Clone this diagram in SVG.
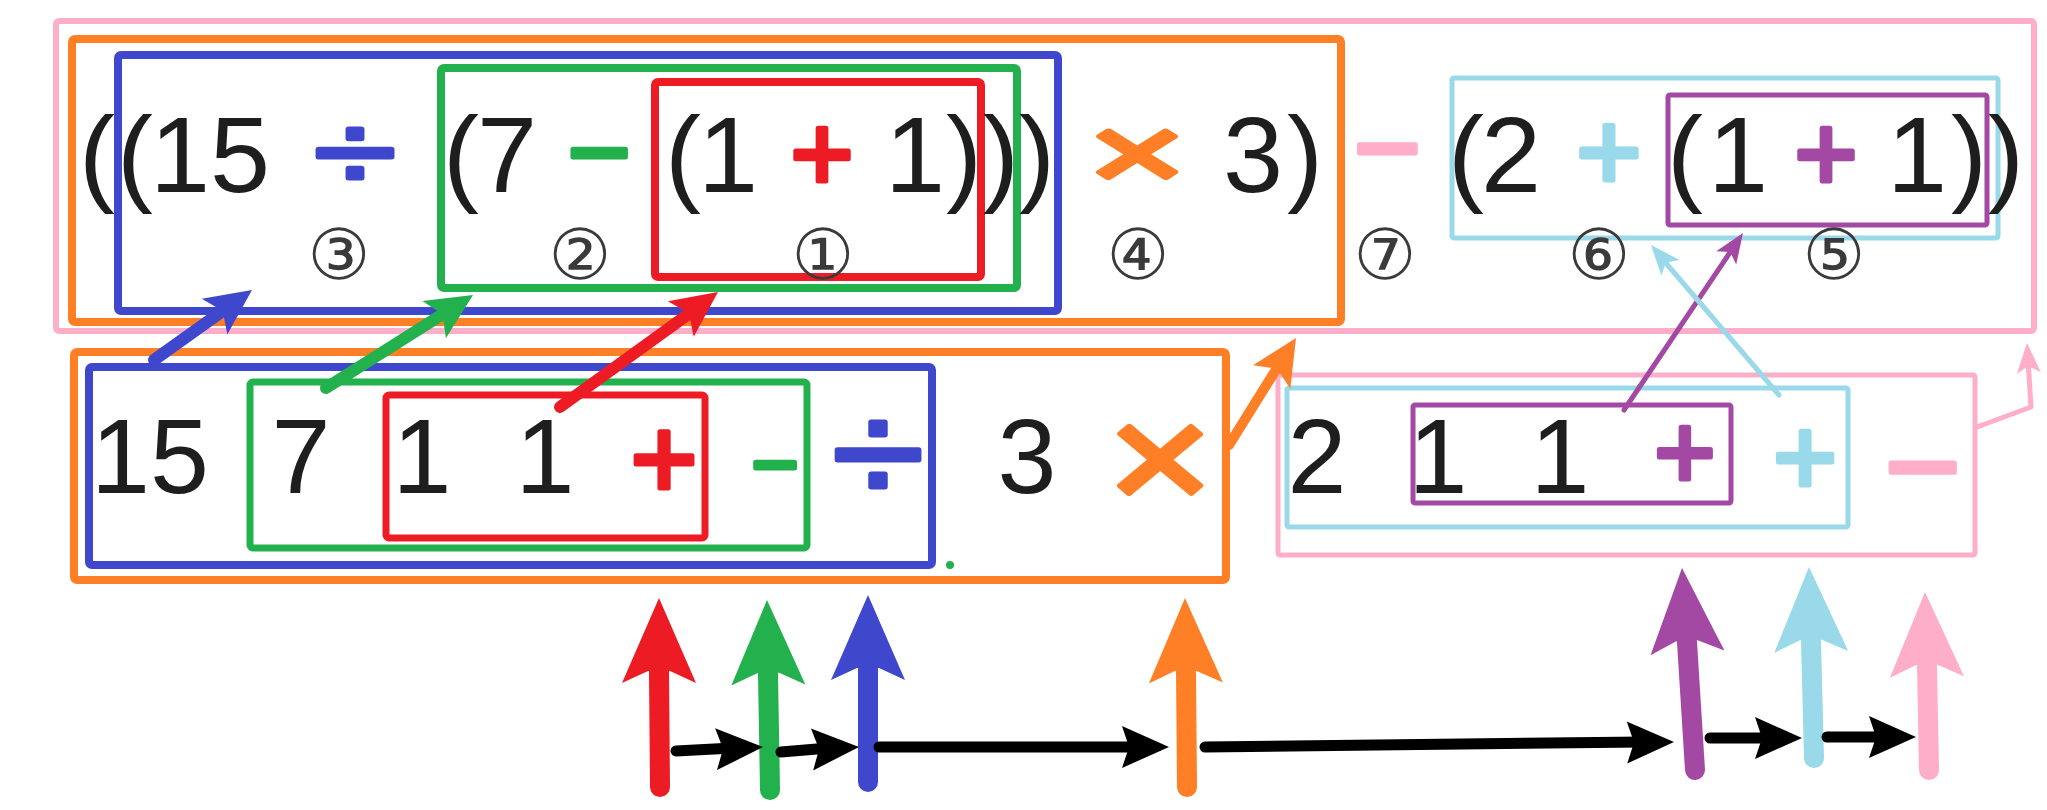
<svg xmlns="http://www.w3.org/2000/svg" xmlns:xlink="http://www.w3.org/1999/xlink" width="2047" height="810" viewBox="0 0 2047 810">
<style>
.bx{fill:none;stroke-linejoin:round}
.t{font-family:"Liberation Sans",Arial,sans-serif;fill:#1e1e1e;text-anchor:middle}
.tt{font-size:108px}
.tb{font-size:106px}
.op{font-family:"Liberation Sans",Arial,sans-serif;text-anchor:middle;stroke-linejoin:round;stroke-width:5}
.num{font-family:"DejaVu Sans","Noto Sans CJK JP",sans-serif;font-size:70px;fill:#3a3a3a;text-anchor:middle}
.ln{stroke-linecap:round;stroke-linejoin:round}
.k{stroke:#000;stroke-width:11}
.v{stroke-width:20}
.pink{stroke:#FFAEC9;fill:#FFAEC9}
.orange{stroke:#FF7F27;fill:#FF7F27}
.blue{stroke:#3F48CC;fill:#3F48CC}
.green{stroke:#22B14C;fill:#22B14C}
.red{stroke:#ED1C24;fill:#ED1C24}
.lblue{stroke:#99D9EA;fill:#99D9EA}
.purple{stroke:#A349A4;fill:#A349A4}
.hd{stroke:none}
</style>
<defs>
<path id="hd-l" d="M0,0 L22,46 L0,36 L-22,46 Z"/>
<path id="hd-s" d="M0,0 L12,30 L0,23 L-12,30 Z"/>
<path id="hd-v" d="M0,0 L37,85 L11,73 L-11,73 L-37,85 Z"/>
<path id="hd-k" d="M0,0 L21,47 L0,40 L-21,47 Z"/>
</defs>
<rect width="2047" height="810" fill="#fff"/>

<!-- infix expression boxes -->
<g id="infix-all"><rect class="bx" x="56" y="21" width="1978" height="310" rx="3" stroke="#FFAEC9" stroke-width="6"/></g>
<g id="infix-mul"><rect class="bx" x="72" y="39" width="1269" height="283" rx="3" stroke="#FF7F27" stroke-width="8"/></g>
<g id="infix-div"><rect class="bx" x="118" y="55" width="940" height="256" rx="3" stroke="#3F48CC" stroke-width="8"/></g>
<g id="infix-sub"><rect class="bx" x="441" y="68" width="576" height="220" rx="3" stroke="#22B14C" stroke-width="8"/></g>
<g id="infix-add1"><rect class="bx" x="655" y="82" width="326" height="195" rx="3" stroke="#ED1C24" stroke-width="8"/></g>
<g id="infix-add2"><rect class="bx" x="1452" y="78" width="546" height="160" rx="2" stroke="#99D9EA" stroke-width="5"/></g>
<g id="infix-add3"><rect class="bx" x="1668" y="95" width="319" height="130" rx="2" stroke="#A349A4" stroke-width="5"/></g>

<g id="infix-text">
<text class="t tt" x="97" y="192">(</text>
<text class="t tt" x="135" y="192">(</text>
<text class="t tt" x="210" y="192">15</text>
<text class="t tt" x="461" y="192">(</text>
<text class="t tt" x="507" y="192">7</text>
<text class="t tt" x="683" y="192">(</text>
<text class="t tt" x="728" y="192">1</text>
<text class="t tt" x="915" y="192">1</text>
<text class="t tt" x="964" y="192">)</text>
<text class="t tt" x="1001" y="192">)</text>
<text class="t tt" x="1037" y="192">)</text>
<text class="t tt" x="1253" y="192">3</text>
<text class="t tt" x="1305" y="192">)</text>
<text class="t tt" x="1466" y="192">(</text>
<text class="t tt" x="1511" y="192">2</text>
<text class="t tt" x="1685" y="192">(</text>
<text class="t tt" x="1738" y="192">1</text>
<text class="t tt" x="1917" y="192">1</text>
<text class="t tt" x="1969" y="192">)</text>
<text class="t tt" x="2006" y="192">)</text>
<text class="op blue" x="0" y="190" font-size="110" stroke-width="6" transform="translate(355,0) scale(1.35,1)">÷</text>
<text class="op green" x="599" y="189" font-size="108">−</text>
<text class="op red" x="822" y="190" font-size="108">+</text>
<text class="op orange" x="0" y="189" font-size="104" stroke-width="8" transform="translate(1137,0) scale(1.6,1)">×</text>
<text class="op pink" x="1387" y="187" font-size="115">−</text>
<text class="op lblue" x="1609" y="190" font-size="112" stroke-width="6">+</text>
<text class="op purple" x="1826" y="190" font-size="108">+</text>
</g>

<g id="order-labels">
<text class="num" x="339" y="279">③</text>
<text class="num" x="580" y="279">②</text>
<text class="num" x="823" y="279">①</text>
<text class="num" x="1138" y="279">④</text>
<text class="num" x="1385" y="279">⑦</text>
<text class="num" x="1599" y="279">⑥</text>
<text class="num" x="1834" y="279">⑤</text>
</g>

<!-- postfix expression boxes -->
<g id="postfix-mul"><rect class="bx" x="74" y="352" width="1152" height="228" rx="3" stroke="#FF7F27" stroke-width="8"/></g>
<g id="postfix-div"><rect class="bx" x="89" y="367" width="843" height="198" rx="3" stroke="#3F48CC" stroke-width="8"/></g>
<g id="postfix-sub"><rect class="bx" x="250" y="382" width="557" height="166" rx="3" stroke="#22B14C" stroke-width="7"/></g>
<g id="postfix-add1"><rect class="bx" x="386" y="395" width="319" height="143" rx="3" stroke="#ED1C24" stroke-width="7"/></g>
<g id="postfix-minus"><rect class="bx" x="1278" y="375" width="697" height="180" rx="2" stroke="#FFAEC9" stroke-width="5"/></g>
<g id="postfix-add2"><rect class="bx" x="1287" y="388" width="561" height="139" rx="2" stroke="#99D9EA" stroke-width="5"/></g>
<g id="postfix-add3"><rect class="bx" x="1413" y="405" width="318" height="98" rx="2" stroke="#A349A4" stroke-width="5"/></g>

<g id="postfix-text">
<text class="t tb" x="150" y="493">15</text>
<text class="t tb" x="301" y="493">7</text>
<text class="t tb" x="422" y="493">1</text>
<text class="t tb" x="545" y="493">1</text>
<text class="t tb" x="1027" y="493">3</text>
<text class="t tb" x="1317" y="493">2</text>
<text class="t tb" x="1438" y="493">1</text>
<text class="t tb" x="1560" y="493">1</text>
<text class="op red" x="664" y="498" font-size="115">+</text>
<text class="op green" x="775" y="492" font-size="80">−</text>
<text class="op blue" x="0" y="503" font-size="145" transform="translate(878,0) scale(1.15,1)">÷</text>
<text class="op orange" x="0" y="510" font-size="150" stroke-width="7" transform="translate(1160,0) scale(1.2,1)">×</text>
<text class="op purple" x="1685" y="488" font-size="105">+</text>
<text class="op lblue" x="1805" y="495" font-size="110">+</text>
<text class="op pink" x="1923" y="511" font-size="130">−</text>
<circle cx="950" cy="565" r="4" fill="#22B14C"/>
</g>

<g id="connectors">
<!-- postfix to infix mapping arrows -->
<line class="ln blue" x1="154" y1="360" x2="224" y2="310" stroke-width="12"/>
<use href="#hd-l" class="blue hd" transform="translate(252,290) rotate(54.5)"/>
<line class="ln green" x1="326" y1="388" x2="443" y2="314" stroke-width="12"/>
<use href="#hd-l" class="green hd" transform="translate(473,295) rotate(57.7)"/>
<line class="ln red" x1="560" y1="407" x2="690" y2="313" stroke-width="12"/>
<use href="#hd-l" class="red hd" transform="translate(718,292) rotate(54)"/>
<line class="ln orange" x1="1229" y1="445" x2="1277" y2="368" stroke-width="10"/>
<use href="#hd-l" class="orange hd" transform="translate(1296,338) rotate(32)"/>
<line class="ln purple" x1="1624" y1="410" x2="1731" y2="251" stroke-width="5"/>
<use href="#hd-s" class="purple hd" transform="translate(1743,233) rotate(33.9)"/>
<line class="ln lblue" x1="1779" y1="395" x2="1665" y2="262" stroke-width="5"/>
<use href="#hd-s" class="lblue hd" transform="translate(1651,245) rotate(-40.5)"/>
<polyline class="ln" points="1977,427 2031,407 2028,360" stroke="#FFAEC9" stroke-width="5" fill="none"/>
<use href="#hd-s" class="pink hd" transform="translate(2027,343) rotate(-3.6)"/>

<!-- evaluation order: vertical arrows -->
<line class="ln v red" x1="660" y1="787" x2="659" y2="672"/>
<use href="#hd-v" class="red hd" transform="translate(659,598)"/>
<line class="ln v green" x1="770" y1="790" x2="768" y2="674"/>
<use href="#hd-v" class="green hd" transform="translate(767,600) rotate(-0.9)"/>
<line class="ln v blue" x1="868" y1="782" x2="868" y2="669"/>
<use href="#hd-v" class="blue hd" transform="translate(868,595)"/>
<line class="ln v orange" x1="1187" y1="787" x2="1186" y2="672"/>
<use href="#hd-v" class="orange hd" transform="translate(1185,598) rotate(-0.6)"/>
<line class="ln v purple" x1="1695" y1="770" x2="1687" y2="642"/>
<use href="#hd-v" class="purple hd" transform="translate(1682,568) rotate(-3.7)"/>
<line class="ln v lblue" x1="1814" y1="758" x2="1811" y2="641"/>
<use href="#hd-v" class="lblue hd" transform="translate(1809,567) rotate(-1.5)"/>
<line class="ln v pink" x1="1929" y1="770" x2="1927" y2="666"/>
<use href="#hd-v" class="pink hd" transform="translate(1925,592) rotate(-1.3)"/>

<!-- evaluation order: black sequence arrows -->
<line class="ln k" x1="676" y1="751" x2="733" y2="748"/>
<use href="#hd-k" transform="translate(763,747) rotate(87.4)"/>
<line class="ln k" x1="781" y1="752" x2="829" y2="748"/>
<use href="#hd-k" transform="translate(859,747) rotate(87)"/>
<line class="ln k" x1="879" y1="747" x2="1139" y2="747"/>
<use href="#hd-k" transform="translate(1169,747) rotate(90)"/>
<line class="ln k" x1="1205" y1="747" x2="1644" y2="742"/>
<use href="#hd-k" transform="translate(1674,742) rotate(89.4)"/>
<line class="ln k" x1="1710" y1="738" x2="1772" y2="738"/>
<use href="#hd-k" transform="translate(1802,738) rotate(90)"/>
<line class="ln k" x1="1827" y1="737" x2="1886" y2="737"/>
<use href="#hd-k" transform="translate(1916,737) rotate(90)"/>
</g>
</svg>
